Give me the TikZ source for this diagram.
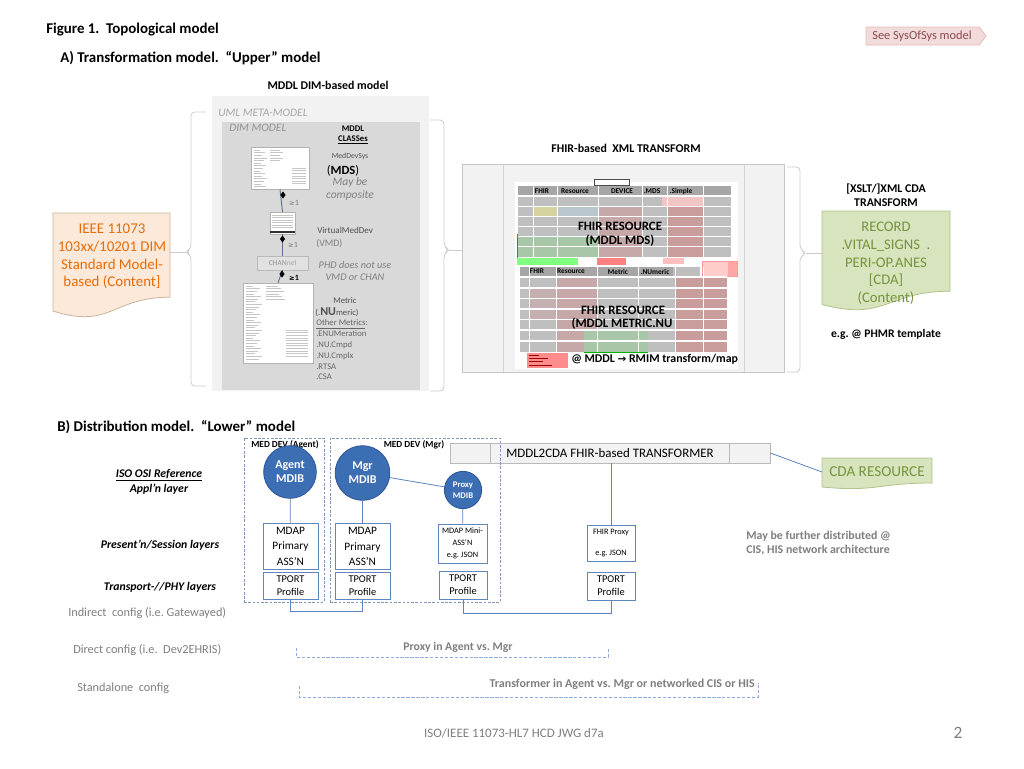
\documentclass[tikz,border=0pt]{standalone}
\usepackage{fontspec}
\setmainfont{Carlito}
\newfontfamily\djv{DejaVu Sans}
\usetikzlibrary{fit,shapes.geometric}
\definecolor{umlgray}{HTML}{F2F2F2}
\definecolor{dimgray}{HTML}{D9D9D9}
\definecolor{gtxt}{HTML}{7F7F7F}
\definecolor{ltxt}{HTML}{A6A6A6}
\definecolor{dtxt}{HTML}{505050}
\definecolor{bracec}{HTML}{CCCCCC}
\definecolor{ieeefill}{HTML}{FDE9D9}
\definecolor{ieeedraw}{HTML}{C9B49A}
\definecolor{ieeetext}{HTML}{E46C0A}
\definecolor{cdafill}{HTML}{D7E4BD}
\definecolor{cdadraw}{HTML}{B0C48A}
\definecolor{cdatext}{HTML}{77933C}
\definecolor{mdibfill}{HTML}{3C6EB4}
\definecolor{mdibdraw}{HTML}{2E5597}
\definecolor{boxblue}{HTML}{5F86BD}
\definecolor{connc}{HTML}{5B84C0}
\definecolor{devc}{HTML}{7F98B8}
\definecolor{dbrc}{HTML}{8FAADC}
\definecolor{sosfill}{HTML}{F2DCDB}
\definecolor{sosdraw}{HTML}{E6B9B8}
\definecolor{sostext}{HTML}{8B4A4A}
\definecolor{umllnc}{HTML}{5A6F8F}
\definecolor{hdrg}{HTML}{A6A6A6}
\definecolor{cellg}{HTML}{BFBFBF}
\newcommand\fs[2]{\fontsize{#1}{#2}\selectfont}
\begin{document}
\frenchspacing
\begin{tikzpicture}[x=0.75pt,y=-0.75pt,
  every node/.style={inner sep=0pt},
  ttl/.style={anchor=west,font=\bfseries\fs{11.2}{13}},
  hb/.style={font=\bfseries\fs{8.9}{10.5}},
  brc/.style={draw=bracec,line width=0.6pt,rounded corners=3pt},
  imgbox/.style={draw=gray!60,fill=white,line width=0.4pt},
  fake/.style={draw=gray!45,line width=0.4pt},
  dmd/.style={diamond,fill=black,minimum width=4pt,minimum height=5.5pt},
  umll/.style={draw=umllnc,line width=0.7pt},
  smtxt/.style={font=\fs{5.8}{7},text=dtxt},
  gitx/.style={font=\itshape\fs{8.6}{10},text=gtxt},
  lyrbox/.style={draw=boxblue,fill=white,line width=0.6pt,align=center},
  mdib/.style={circle,fill=mdibfill,draw=mdibdraw,line width=0.6pt,text=white,align=center,font=\bfseries\fs{9}{10.5}},
  conn/.style={draw=connc,line width=0.6pt},
  devbox/.style={draw=devc,dash pattern=on 2pt off 1.2pt,line width=0.6pt},
  dbrk/.style={draw=dbrc,dash pattern=on 2.5pt off 1.2pt,line width=0.6pt},
  lyrlbl/.style={font=\bfseries\itshape\fs{8.8}{11.25},align=center},
  cfglbl/.style={anchor=west,font=\fs{9.2}{10.5},text=gtxt},
  thd/.style={font=\bfseries\fs{5.5}{6.5}},
  tbig/.style={font=\bfseries\fs{9.6}{11}},
]
\useasboundingbox (0,0) rectangle (1024,768);
\fill[white] (0,0) rectangle (1024,768);

% ---------------- header
\node[ttl] (fig) at (46,30) {Figure 1.\ \ Topological model};
\draw[fill=sosfill,draw=sosdraw,line width=0.6pt] (866,27) -- (979,27) -- (986,36) -- (979,45) -- (866,45) -- cycle;
\node[font=\fs{9.3}{11},text=sostext] (sos) at (922,36) {See SysOfSys model};
\node[ttl] (secA) at (60,58) {A) Transformation model.\ \ “Upper” model};
\node[hb] (mddlhdr) at (328,85) {MDDL DIM-based model};

% ---------------- UML / DIM model
\fill[umlgray] (212,96) rectangle (429,391);
\fill[dimgray] (222,122) rectangle (420,390);
\node[anchor=west,font=\itshape\fs{8.6}{10},text=ltxt] (umllbl) at (218,113) {UML META-MODEL};
\node[anchor=west,font=\itshape\fs{8.6}{10},text=gtxt!85] (dimlbl) at (229,128) {DIM MODEL};
\node[font=\bfseries\fs{6.5}{8},align=center] (classes) at (353,135) {MDDL\\\underline{CLASSes}};

\node[imgbox,fit={(251,147)(309,189)}] (mdsimg) {};
\foreach \i in {0,...,14} \draw[fake] (254,{150+\i*2.6}) -- ++({6+mod(\i*5,8)},0);
\foreach \i in {0,...,4} \draw[fake] (270,{150+\i*2.6}) -- ++({10+mod(\i*3,6)},0);
\foreach \i in {0,...,6} \draw[fake] (292,{168+\i*2.6}) -- ++(14,0);

\node[imgbox,fit={(270,212)(295,234)}] (vmdimg) {};
\foreach \i in {0,...,5} \draw[fake] (272,{215+\i*2.5}) -- ++(21,0);
\fill[black!80] (270,230.5) rectangle (295,232.5);

\node[draw=gray!55,fill=dimgray!80!white,line width=0.5pt,minimum width=38.25pt,minimum height=10.5pt,font=\fs{5.6}{7},text=ltxt] (chan) at (282.5,263) {\textbf{CHAN}nel};

\node[imgbox,fit={(243,283)(313,363)}] (metimg) {};
\foreach \i in {0,...,28} \draw[fake] (246,{286+\i*2.6}) -- ++({7+mod(\i*7,10)},0);
\foreach \i in {0,...,5} \draw[fake] (266,{286+\i*2.6}) -- ++({12+mod(\i*3,8)},0);
\foreach \i in {0,...,10} \draw[fake] (286,{330+\i*2.6}) -- ++(22,0);

\draw[umll] (mdsimg.south) -- (vmdimg.north);
\draw[umll] (vmdimg.south) -- (chan.north);
\draw[umll] (chan.south) -- (metimg.north);
\node[dmd] (d1) at (283,195) {};
\node[dmd] (d2) at (282.5,239) {};
\node[dmd] (d3) at (282,274) {};

\node[smtxt] (medsys) at (350,156) {MedDevSys};
\node[font=\fs{9.4}{11}] (mdstxt) at (343,171) {(\textbf{MDS})};
\node[gitx] (maybe) at (350,182) {May be};
\node[gitx] (compos) at (350,195) {composite};
\node[font=\fs{6}{7},text=gtxt] (ge1) at (294,203) {{\djv\fs{5}{6}≥}1};
\node[anchor=west,font=\fs{6.8}{8},text=dtxt] (vmdname) at (317,230) {VirtualMedDev};
\node[anchor=west,font=\fs{7.4}{9},text=gtxt] (vmdtxt) at (316,244) {(VMD)};
\node[font=\fs{6}{7},text=gtxt] (ge2) at (293,245) {{\djv\fs{5}{6}≥}1};
\node[font=\itshape\fs{7.7}{9},text=gtxt] (phd) at (355,265) {PHD does not use};
\node[font=\itshape\fs{7.7}{9},text=gtxt] (phd2) at (355,277) {VMD or CHAN};
\node[font=\bfseries\fs{6}{7}] (ge3) at (294,278) {{\djv\bfseries\fs{5}{6}≥}1};
\node[smtxt,font=\fs{6.5}{7.5}] (metric) at (345,301) {Metric};
\node[font=\fs{6.5}{7.5},text=dtxt] (numeric) at (337,312.5) {(.{\bfseries\fs{9}{10}NU}meric)};
\node[anchor=west,font=\fs{6.5}{8.1},align=left,text=gtxt!80!black] (others) at (316,350) {\underline{Other Metrics}:\\.ENUMeration\\.NU.Cmpd\\.NU.Cmplx\\.RTSA\\.CSA};

% ---------------- IEEE document
\draw[fill=ieeefill,draw=ieeedraw,line width=0.6pt] (53,213) -- (170,213) -- (170,297.2) .. controls (111.5,297.2) and (111.5,329.3) .. (53,311.1) -- cycle;
\node[font=\fs{11.2}{13.3},text=ieeetext,align=center] (ieee) at (112,256.5) {IEEE 11073\\103xx/10201 DIM\\Standard Model-\\based (Content]};
\coordinate (ieeeR) at (170,252);

% ---------------- braces
\coordinate (lbtip) at (186,252);
\draw[brc] (206,112) -- (191,112) -- (191,248) -- (lbtip) -- (191,256) -- (191,386) -- (206,386);
\draw[brc] (ieeeR) -- (lbtip);
\coordinate (rbtip) at (449,250);
\draw[brc] (430,120) -- (444,120) -- (444,246) -- (rbtip) -- (444,254) -- (444,391) -- (430,391);

% ---------------- FHIR transform
\node[hb] (fhirhdr) at (626,148) {FHIR-based\ \ XML TRANSFORM};
\node[fit={(462,164)(784,372)},draw=gray!45,fill=umlgray,line width=0.5pt] (fhirbox) {};
\draw[gray!35,line width=0.5pt] (503,164) -- (503,372) (744,164) -- (744,372);
\draw[brc] (rbtip) -- (rbtip -| fhirbox.west);
\fill[white] (515,182) rectangle (738,369);
\draw[black!70,line width=0.3pt,fill=white] (594,179.5) rectangle (629,185);
% upper table
\fill[hdrg] (518,186) rectangle (731,195);
\fill[cellg] (518,197) rectangle (731,257);
\fill[red!12!cellg] (598,207) rectangle (642,257);
\fill[red!18!cellg] (667,197) rectangle (703,257);
\fill[red!22!white!80!cellg] (662,197) rectangle (703,206);
\fill[yellow!25!cellg] (533,207) rectangle (557,216);
\fill[cyan!10!cellg] (557,207) rectangle (598,216);
\fill[green!12!cellg] (518,236) rectangle (598,257);
\foreach \xx in {533,557,598,642,667,703} \draw[white,line width=0.75pt] (\xx,186) -- (\xx,257);
\foreach \yy in {196,206.5,216.5,226.5,236.5,246.5} \draw[white,line width=1pt] (518,\yy) -- (731,\yy);
\node[thd] (h1) at (542,191) {FHIR};
\node[thd] (h2) at (575,191) {Resource};
\node[thd] (h3) at (622,191) {DEVICE};
\node[thd] (h4) at (652,191) {.MDS};
\node[thd] (h5) at (681,191) {.Simple};
\node[tbig] (fr1) at (620,226) {FHIR RESOURCE};
\node[tbig] (fr1b) at (620,240.5) {(MDDL MDS)};
% middle strip
\draw[green!70!black,line width=0.5pt] (517,234) -- (517,264);
\fill[green!50!white] (517,258) rectangle (578,265);
\fill[red!50!white] (597,258) rectangle (626,265);
\fill[red!25!white] (663,258) rectangle (684,264);
\draw[red!40,fill=red!20!white,line width=0.3pt] (702,261) rectangle (737,276);
\fill[red!35!white] (728,262) rectangle (737,276);
% lower table
\fill[hdrg] (520,267) rectangle (673,276);
\fill[cellg] (673,267) rectangle (700,276);
\fill[cellg] (520,278) rectangle (727,352);
\fill[red!12!cellg] (556,278) rectangle (597,352);
\fill[red!18!cellg] (675,278) rectangle (727,352);
\fill[red!8!cellg] (529,288) rectangle (556,320);
\fill[green!12!cellg] (584,330) rectangle (648,352);
\foreach \xx in {529,556,597,638,675,703} \draw[white,line width=0.75pt] (\xx,267) -- (\xx,352);
\foreach \yy in {277,288,298.5,309,319.5,330,341} \draw[white,line width=1pt] (520,\yy) -- (727,\yy);
\node[thd] (l1) at (537,271.5) {FHIR};
\node[thd] (l2) at (571,271.5) {Resource};
\node[thd] (l3) at (618,271.5) {Metric};
\node[thd] (l4) at (655,271.5) {.NUmeric};
\node[tbig] (fr2) at (623,310.5) {FHIR RESOURCE};
\node[tbig] (fr2b) at (622,323.5) {(MDDL METRIC.NU};
\draw[green!70!black,line width=0.6pt] (584,352) -- (648,352);
\fill[red!45!white] (527,353) rectangle (568,368);
\foreach \i in {0,...,3} \draw[red!60!black,line width=0.3pt] (529,{355+\i*3.3}) -- ++({10+mod(\i*9,14)},0);
\node[anchor=west,font=\bfseries\fs{8.9}{10}] (rmim) at (571,359) {@ MDDL {\djv\fs{7.8}{9}→} RMIM transform/map};

% ---------------- CDA document
\node[hb,align=center] (xslt) at (886,195.5) {[XSLT/]XML CDA\\TRANSFORM};
\draw[fill=cdafill,draw=cdadraw,line width=0.6pt] (822,211) -- (950,211) -- (950,291.2) .. controls (886,291.2) and (886,321.75) .. (822,304.4) -- cycle;
\node[font=\fs{11}{13.3},text=cdatext,align=center] (cda) at (886,263.5) {RECORD\\.VITAL\_SIGNS\ \ .\\PERI-OP.ANES\\{}[CDA]\\(Content)};
\node[font=\bfseries\fs{8.7}{10}] (phmr) at (886,334) {e.g. @ PHMR template};
\coordinate (cdaL) at (822,253);
\coordinate (fbtip) at (806,253);
\draw[brc] (787,167) -- (800,167) -- (800,249) -- (fbtip) -- (800,257) -- (800,372) -- (787,372);
\draw[brc] (fbtip) -- (cdaL);

% ---------------- Section B
\node[ttl] (secB) at (57,427) {B) Distribution model.\ \ “Lower” model};

\node[fit={(450,443)(770,463)},draw=gray!55,fill=umlgray,line width=0.5pt] (xfbar) {};
\draw[gray!55,line width=0.5pt] (490,443) -- (490,463) (729,443) -- (729,463);
\node[font=\fs{9.7}{11}] (xftxt) at (610,453) {MDDL2CDA FHIR-based TRANSFORMER};

\node[devbox,fit={(244,438)(324,602)}] (agentdev) {};
\node[devbox,fit={(330,438)(500,602)}] (mgrdev) {};
\node[font=\bfseries\fs{7}{8}] (agentlbl) at (285,445) {MED DEV (Agent)};
\node[font=\bfseries\fs{7}{8}] (mgrlbl) at (414,445) {MED DEV (Mgr)};

\node[mdib,minimum size=39.5pt] (agent) at (290,472) {Agent\\MDIB};
\node[mdib,minimum size=41pt] (mgr) at (362.5,473) {Mgr\\MDIB};
\node[mdib,minimum size=28pt,font=\bfseries\fs{6.5}{8}] (proxy) at (463,490) {Proxy\\MDIB};

\node[lyrbox,minimum width=41.25pt,minimum height=34.5pt,font=\fs{8.5}{11.6}] (amdap) at (290.5,546) {MDAP\\Primary\\ASS’N};
\node[lyrbox,minimum width=41.25pt,minimum height=34.5pt,font=\fs{8.5}{11.6}] (mmdap) at (362.5,546.5) {MDAP\\Primary\\ASS’N};
\node[lyrbox,minimum width=36.75pt,minimum height=29.25pt,font=\fs{6.2}{9}] (pmdap) at (462.5,543.5) {MDAP Mini-\\ASS’N\\e.g. JSON};
\node[lyrbox,minimum width=36pt,minimum height=27pt,font=\fs{6.2}{8}] (fproxy) at (611,543) {FHIR Proxy\\[8pt]e.g. JSON};

\node[lyrbox,minimum width=41.25pt,minimum height=20.25pt,font=\fs{7.8}{9.75}] (atport) at (290.5,585.5) {TPORT\\Profile};
\node[lyrbox,minimum width=41.25pt,minimum height=20.25pt,font=\fs{7.8}{9.75}] (mtport) at (362.5,585.5) {TPORT\\Profile};
\node[lyrbox,minimum width=36pt,minimum height=21pt,font=\fs{7.8}{9.75}] (ptport) at (463,585) {TPORT\\Profile};
\node[lyrbox,minimum width=36pt,minimum height=21pt,font=\fs{7.8}{9.75}] (ftport) at (611,586) {TPORT\\Profile};

\draw[conn] (agent) -- (amdap);
\draw[conn] (mgr) -- (mmdap);
\draw[conn] (mgr) -- (proxy);
\draw[conn] (proxy) -- (pmdap);
\draw[conn] (fproxy.north |- xfbar.south) -- (fproxy.north);

\draw[fill=cdafill,draw=cdadraw,line width=0.6pt] (822,458) -- (932,458) -- (932,483) .. controls (877,483) and (877,492.2) .. (822,487) -- cycle;
\node[font=\fs{11.4}{13},text=cdatext] (cdares) at (877,471.5) {CDA RESOURCE};
\coordinate (cdaresL) at (822,472);
\draw[conn] (xfbar.east) -- (cdaresL);

\node[anchor=west,font=\bfseries\fs{8.9}{10.5},text=gtxt,align=left] (further) at (746,543) {May be further distributed @\\CIS, HIS network architecture};

% layer labels
\node[lyrlbl] (osi) at (159,481.5) {\underline{ISO OSI Reference}\\Appl’n layer};
\node[lyrlbl] (pres) at (160,545) {Present’n/Session layers};
\node[lyrlbl] (trans) at (160,587) {Transport-//PHY layers};

% config rows
\node[cfglbl] (indir) at (68,613) {Indirect\ \ config (i.e. Gatewayed)};
\node[cfglbl] (direct) at (73,650) {Direct config (i.e.\ \ Dev2EHRIS)};
\node[cfglbl] (stand) at (77,688) {Standalone\ \ config};

\draw[conn] (atport.south) -- ++(0,12) -| (mtport.south);
\draw[conn] (ptport.south) -- ++(0,14) -| (ftport.south);

\coordinate (pxL) at (296,648);
\coordinate (pxR) at (608,648);
\draw[dbrk] (pxL) -- ++(0,9) -| (pxR);
\node[font=\bfseries\fs{8.8}{10},text=gtxt] (proxylbl) at (458,647) {Proxy in Agent vs. Mgr};
\coordinate (tfL) at (299,686);
\coordinate (tfR) at (758,683);
\draw[dbrk] (tfL) -- ++(0,11) -| (tfR);
\node[anchor=east,font=\bfseries\fs{9}{10},text=gtxt] (tflbl) at (755,684) {Transformer in Agent vs. Mgr or networked CIS or HIS};

% footer
\node[font=\fs{9.7}{11},text=gtxt] (foot) at (514,733) {ISO/IEEE 11073-HL7 HCD JWG d7a};
\node[font=\fs{13}{15},text=gtxt] (pg) at (958,733) {2};
\end{tikzpicture}
\end{document}
